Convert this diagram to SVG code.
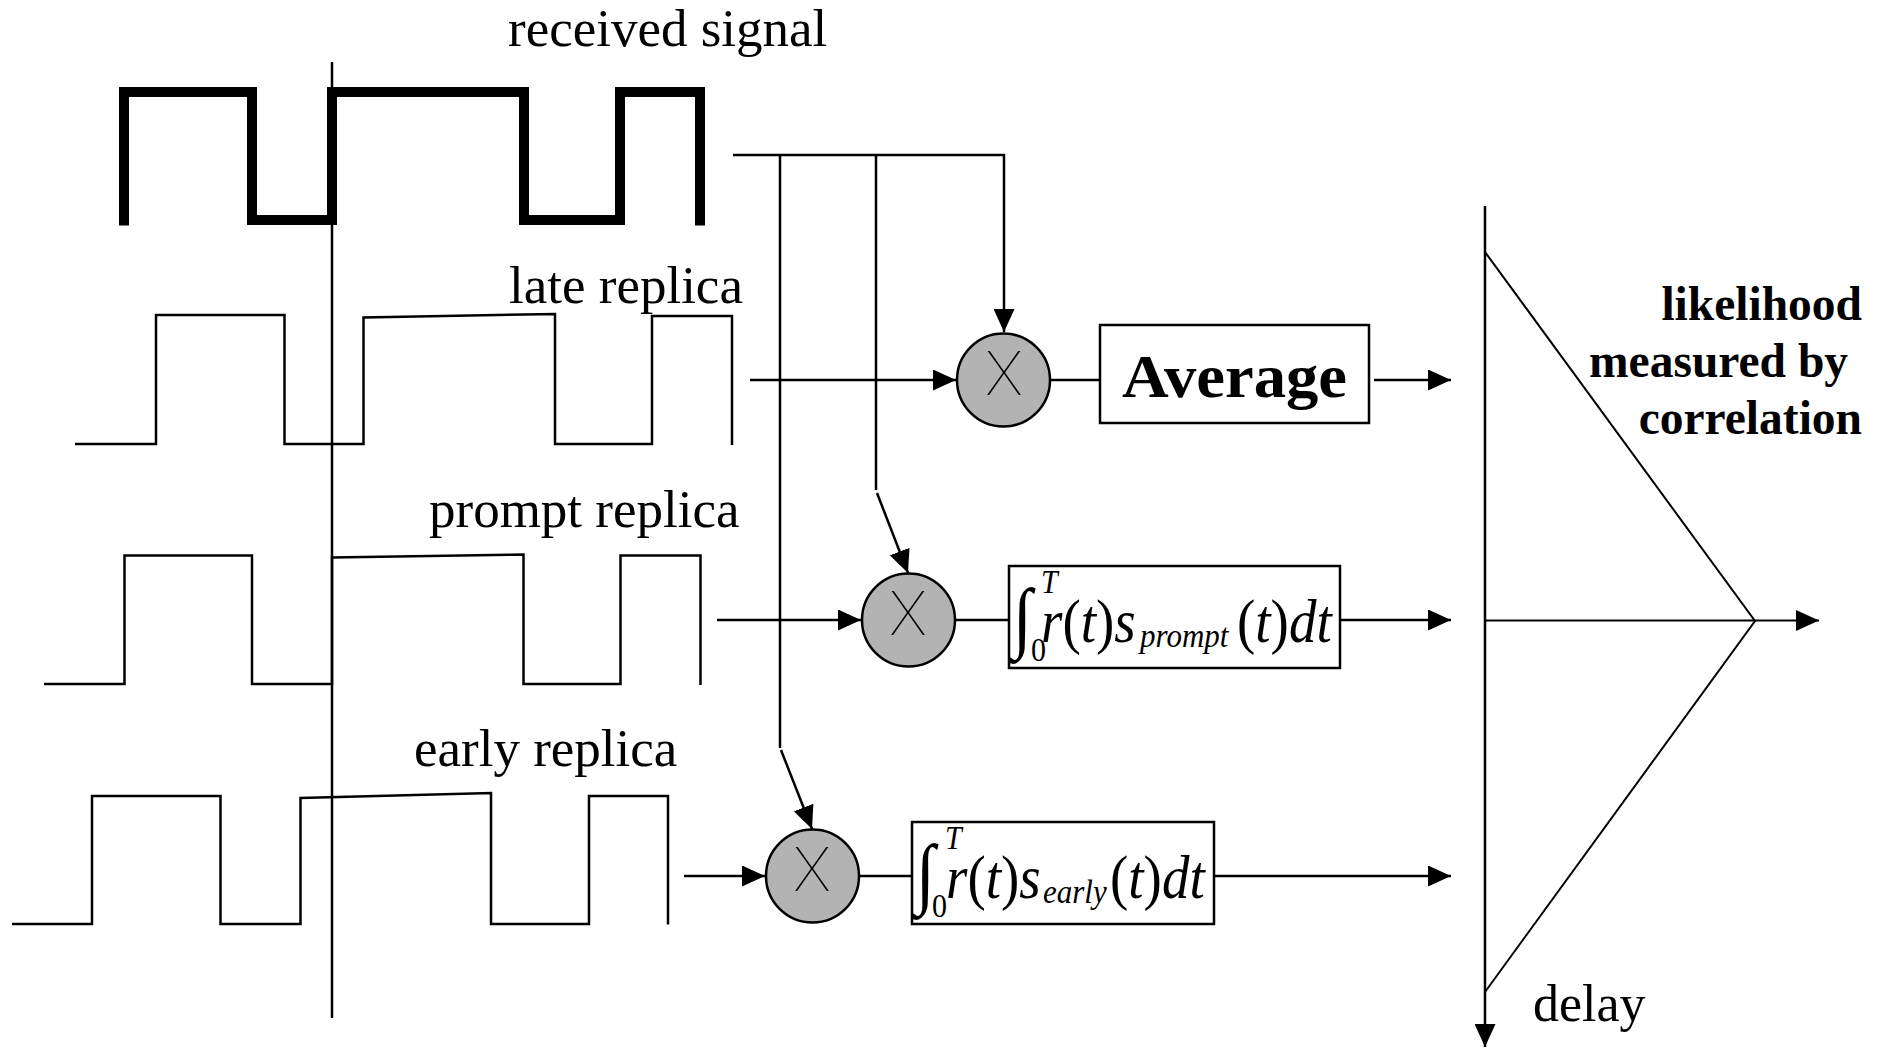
<svg xmlns="http://www.w3.org/2000/svg" width="1883" height="1048" viewBox="0 0 1883 1048">
<defs>
<style>
.wave{fill:none;stroke:#000;stroke-width:2.5;stroke-linejoin:miter}
.thick{fill:none;stroke:#000;stroke-width:10;stroke-linejoin:miter;stroke-linecap:butt}
.ln{fill:none;stroke:#000;stroke-width:2.5}
.arr{fill:none;stroke:#000;stroke-width:2.5;marker-end:url(#ah)}
.mult{fill:#b3b3b3;stroke:#000;stroke-width:2.5}
.box{fill:#fff;stroke:#000;stroke-width:2.5}
.lbl{font-family:"Liberation Serif","Times New Roman",serif;font-size:53px;fill:#000}
.bold{font-family:"Liberation Serif","Times New Roman",serif;font-weight:bold;fill:#000}
.eq{font-family:"Liberation Serif","Times New Roman",serif;font-size:55px;fill:#000}
.it{font-style:italic}
.lim{font-size:30px}
.sub{font-size:31px;font-style:italic}
.int{font-size:70px;font-weight:bold}
.x{font-family:Roboto,"Liberation Sans",sans-serif;font-weight:100;font-size:62px;fill:#000}
</style>
<marker id="ah" markerWidth="23" markerHeight="21" viewBox="0 0 23 21" refX="23" refY="10.5" orient="auto" markerUnits="userSpaceOnUse">
<path d="M0,0 L23,10.5 L0,21 z" fill="#000"/>
</marker>
</defs>
<rect width="1883" height="1048" fill="#fff"/>

<g id="received-signal">
<polyline class="thick" points="124,225.5 124,92 252,92 252,220 332,220 332,92 524,92 524,220 620,220 620,92 700,92 700,225.5"/>
<text class="lbl" x="508" y="46">received signal</text>
</g>

<g id="time-axis">
<line class="ln" x1="332" y1="62" x2="332" y2="1018"/>
</g>

<g id="late-replica">
<polyline class="wave" points="75,444 156,444 156,315 284.5,315 284.5,444 363.5,444 363.5,317.5 555,314 555,444 652,444 652,316 732,316 732,445"/>
<text class="lbl" x="509" y="303">late replica</text>
</g>

<g id="prompt-replica">
<polyline class="wave" points="44,684 124.5,684 124.5,555.5 252,555.5 252,684 332,684 332,557.5 523.5,554.5 523.5,684 620.5,684 620.5,555.5 700.5,555.5 700.5,685"/>
<text class="lbl" x="429" y="527">prompt replica</text>
</g>

<g id="early-replica">
<polyline class="wave" points="12,924 92,924 92,796 220.5,796 220.5,924 300.5,924 300.5,798 491,793 491,924 589,924 589,796 668,796 668,924.5"/>
<text class="lbl" x="414" y="766">early replica</text>
</g>

<g id="mult-late">
<circle class="mult" cx="1003.5" cy="380" r="46.5"/>
<text class="x" x="1004" y="395" text-anchor="middle">X</text>
</g>
<g id="mult-prompt">
<circle class="mult" cx="908.5" cy="620" r="46.5"/>
<text class="x" x="908" y="635" text-anchor="middle">X</text>
</g>
<g id="mult-early">
<circle class="mult" cx="812.5" cy="876" r="46.5"/>
<text class="x" x="812" y="891" text-anchor="middle">X</text>
</g>

<g id="average">
<rect class="box" x="1100" y="325" width="269" height="98"/>
<text class="bold" x="1122" y="397" font-size="62" textLength="225" lengthAdjust="spacingAndGlyphs">Average</text>
</g>

<g id="integrator-prompt">
<rect class="box" x="1009" y="566" width="331" height="102"/>
<text class="eq" transform="scale(1,1.12)"><tspan class="int" x="1013" y="573.8">∫</tspan><tspan class="lim it" x="1041" y="529.5">T</tspan><tspan class="lim" x="1031" y="590.2">0</tspan><tspan class="it" x="1041" y="573.2">r</tspan><tspan>(</tspan><tspan class="it">t</tspan><tspan>)</tspan><tspan class="it">s</tspan><tspan class="sub" x="1140" y="577.7">prompt</tspan><tspan x="1237" y="573.2">(</tspan><tspan class="it">t</tspan><tspan>)</tspan><tspan class="it">dt</tspan></text>
</g>

<g id="integrator-early">
<rect class="box" x="912" y="822" width="302" height="102"/>
<text class="eq" transform="scale(1,1.12)"><tspan class="int" x="916" y="802.3">∫</tspan><tspan class="lim it" x="945" y="758">T</tspan><tspan class="lim" x="932" y="818.75">0</tspan><tspan class="it" x="946" y="801.8">r</tspan><tspan>(</tspan><tspan class="it">t</tspan><tspan>)</tspan><tspan class="it">s</tspan><tspan class="sub" x="1043" y="806.3">early</tspan><tspan x="1110" y="801.8">(</tspan><tspan class="it">t</tspan><tspan>)</tspan><tspan class="it">dt</tspan></text>
</g>

<g id="likelihood-plot">
<line class="ln" x1="1485" y1="206" x2="1485" y2="1047" style="marker-end:url(#ah)"/>
<polyline class="ln" points="1485,252 1755,621 1485,992" style="stroke-width:2"/>
<line class="arr" x1="1485" y1="620.5" x2="1819" y2="620.5" style="stroke-width:2"/>
<text class="bold" x="1862" y="320" font-size="47.5" text-anchor="end">likelihood</text>
<text class="bold" x="1589" y="377" font-size="47.5">measured by</text>
<text class="bold" x="1862" y="434" font-size="47.5" text-anchor="end">correlation</text>
<text class="lbl" x="1533" y="1021" style="font-size:52px">delay</text>
</g>

<g id="connectors">
<polyline class="arr" points="733,155 1004,155 1004,332"/>
<line class="ln" x1="780" y1="155" x2="780" y2="748"/>
<line class="arr" x1="781" y1="750" x2="812" y2="829"/>
<line class="ln" x1="876" y1="155" x2="876" y2="490"/>
<line class="arr" x1="877" y1="493" x2="908" y2="573"/>
<line class="arr" x1="750" y1="380" x2="956" y2="380"/>
<line class="arr" x1="717" y1="620" x2="861" y2="620"/>
<line class="arr" x1="684" y1="876" x2="765" y2="876"/>
<line class="ln" x1="1050" y1="380" x2="1100" y2="380"/>
<line class="ln" x1="955" y1="620" x2="1009" y2="620"/>
<line class="ln" x1="859" y1="876" x2="912" y2="876"/>
<line class="arr" x1="1374" y1="380" x2="1451" y2="380"/>
<line class="arr" x1="1340" y1="620" x2="1451" y2="620"/>
<line class="arr" x1="1214" y1="876" x2="1451" y2="876"/>
</g>
</svg>
